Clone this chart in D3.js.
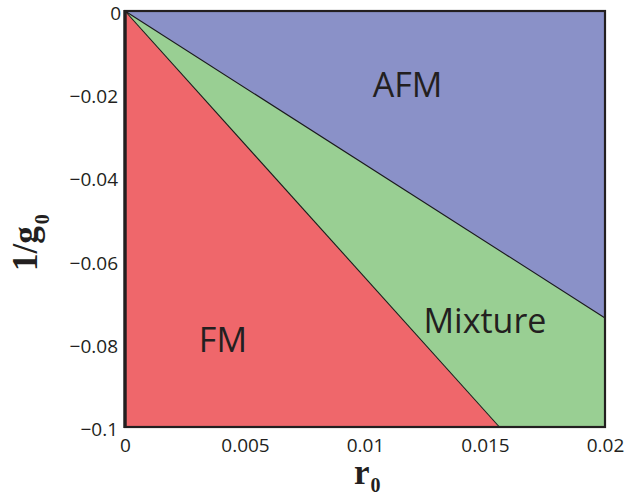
<!DOCTYPE html>
<html><head><meta charset="utf-8">
<script src="https://cdn.jsdelivr.net/npm/d3@7"></script>
<style>body{margin:0;background:#fff}svg{display:block}</style>
</head><body>
<svg id="c" width="624" height="492"></svg>
<script>
const xTicks = [0, 0.005, 0.01, 0.015, 0.02];
const xTickLabels = ["0", "0.005", "0.01", "0.015", "0.02"];
const yTicks = [0, -0.02, -0.04, -0.06, -0.08, -0.1];
const yTickLabels = ["0", "\u22120.02", "\u22120.04", "\u22120.06", "\u22120.08", "\u22120.1"];
const fmBoundary = [[0, 0], [0.0156, -0.1]];
const afmBoundary = [[0, 0], [0.02, -0.0738]];
const regionNames = ["FM", "Mixture", "AFM"];
const regionLabelPos = [[0.00408, -0.082], [0.015, -0.0774], [0.01177, -0.0207]];

const svg = d3.select("#c");
const m = {l:125, r:605, t:11, b:427};
const x = d3.scaleLinear().domain([0, 0.02]).range([m.l, m.r]);
const y = d3.scaleLinear().domain([-0.1, 0]).range([m.b, m.t]);

const regions = [
  {name:"FM", color:"#ef676b", pts:[fmBoundary[0], fmBoundary[1], [0,-0.1]]},
  {name:"Mixture", color:"#99cf93", pts:[fmBoundary[0], fmBoundary[1], [0.02,-0.1], afmBoundary[1]]},
  {name:"AFM", color:"#8a91c8", pts:[afmBoundary[0], afmBoundary[1], [0.02,0]]}
];
const line = d3.line().x(d=>x(d[0])).y(d=>y(d[1]));
svg.selectAll("path.reg").data(regions).join("path")
  .attr("class","reg")
  .attr("d", d=>line(d.pts)+"Z")
  .attr("fill", d=>d.color).attr("stroke", d=>d.color).attr("stroke-width",0.5);

[fmBoundary, afmBoundary].forEach(b=>{
  svg.append("path").attr("d", line(b)).attr("stroke","#1a1a1a").attr("stroke-width",1.1).attr("fill","none");
});

// frame
svg.append("rect").attr("x",m.l).attr("y",m.t).attr("width",m.r-m.l).attr("height",m.b-m.t)
  .attr("fill","none").attr("stroke","#231f20").attr("stroke-width",2.2);
svg.append("line").attr("x1",m.l).attr("x2",m.l).attr("y1",m.t-1).attr("y2",m.b+1)
  .attr("stroke","#231f20").attr("stroke-width",3.4);

const xAxis = d3.axisBottom(x).tickValues(xTicks).tickFormat((d,i)=>xTickLabels[i]).tickSize(0).tickPadding(0);
const gx = svg.append("g").attr("transform",`translate(0,${m.b})`).call(xAxis);
gx.select(".domain").remove();
gx.selectAll("text").attr("y",25).attr("dy",null)
  .attr("font-family","Open Sans, sans-serif").attr("font-size",19).attr("fill","#231f20");

const yAxis = d3.axisLeft(y).tickValues(yTicks).tickFormat((d,i)=>yTickLabels[i]).tickSize(0).tickPadding(7);
const gy = svg.append("g").attr("transform",`translate(${m.l},0)`).call(yAxis);
gy.select(".domain").remove();
gy.selectAll("text").attr("dy",8.5)
  .attr("font-family","Open Sans, sans-serif").attr("font-size",19).attr("fill","#231f20");
gy.selectAll(".tick").filter(d=>d===0).select("text").attr("x",-4);

svg.selectAll("text.reg").data(regionNames).join("text")
  .attr("class","reg")
  .attr("x",(d,i)=>x(regionLabelPos[i][0])).attr("y",(d,i)=>y(regionLabelPos[i][1]))
  .attr("text-anchor","middle")
  .attr("font-family","Open Sans, sans-serif").attr("font-size",34).attr("fill","#231f20")
  .text(d=>d);

// axis titles
const xt = svg.append("text").attr("x",354).attr("y",484)
  .attr("font-family","Liberation Serif, serif").attr("font-weight","bold").attr("font-size",35).attr("fill","#231f20");
xt.append("tspan").text("r");
xt.append("tspan").attr("font-size",20).attr("dx",1).attr("dy",8).text("0");

const yt = svg.append("text").attr("transform","translate(37,271) rotate(-90)")
  .attr("font-family","Liberation Serif, serif").attr("font-weight","bold").attr("font-size",35).attr("fill","#231f20");
yt.append("tspan").text("1/g");
yt.append("tspan").attr("font-size",20).attr("dx",2).attr("dy",12).text("0");
</script>
</body></html>
